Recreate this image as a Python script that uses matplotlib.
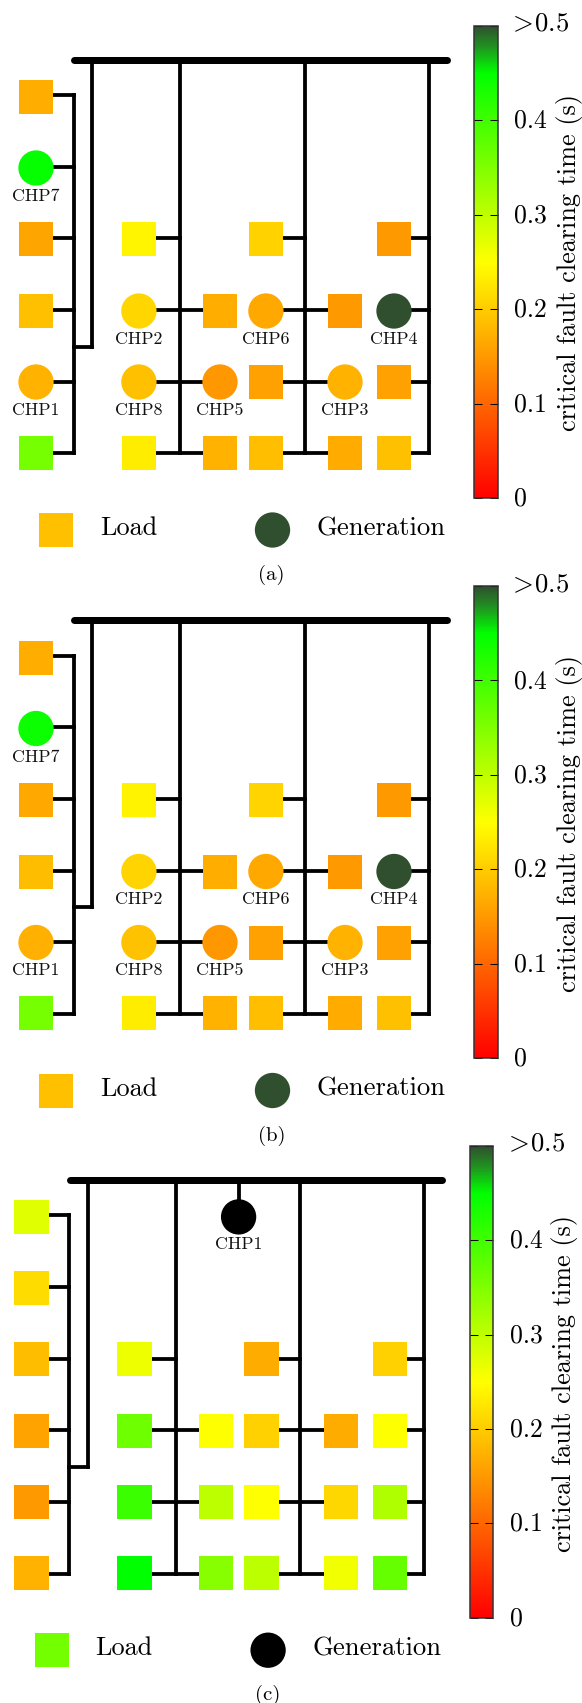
import numpy as np
import matplotlib
matplotlib.use("Agg")
import matplotlib.pyplot as plt
from matplotlib.colors import LinearSegmentedColormap, Normalize
from matplotlib.cm import ScalarMappable
from matplotlib.patches import Rectangle, Ellipse
from matplotlib.transforms import ScaledTranslation

plt.rcParams['font.family'] = ['cmr10', 'DejaVu Serif']
plt.rcParams['mathtext.fontset'] = 'cm'
plt.rcParams['axes.formatter.use_mathtext'] = True

W, H, DPI = 582, 1703, 100
N = np.nan

# critical fault clearing time (s), rows top to bottom, columns left to right
VALUES_A = [
    [.170, N, N, N, N, N],
    [.445, N, N, N, N, N],
    [.162, .240, N, .206, N, .150],
    [.188, .209, .170, .165, .150, .500],
    [.175, .188, .149, .158, .175, .158],
    [.358, .232, .175, .186, .167, .188],
]
VALUES_B = [
    [.170, N, N, N, N, N],
    [.440, N, N, N, N, N],
    [.165, .238, N, .208, N, .150],
    [.185, .208, .170, .165, .150, .500],
    [.172, .190, .149, .158, .175, .158],
    [.358, .232, .175, .186, .167, .188],
]
VALUES_C = [
    [.274, N, N, N, N, N],
    [.215, N, N, N, N, N],
    [.185, .263, N, .168, N, .205],
    [.160, .364, .250, .205, .168, .250],
    [.150, .405, .303, .250, .210, .312],
    [.175, .450, .343, .303, .260, .370],
]
CHP_AB = {'CHP7': (1, 0), 'CHP2': (3, 1), 'CHP6': (3, 3), 'CHP4': (3, 5),
          'CHP1': (4, 0), 'CHP8': (4, 1), 'CHP5': (4, 2), 'CHP3': (4, 4)}
LEGEND_LOAD = [.188, .188, .360]
CBAR_TICKS = [0, .1, .2, .3, .4, .5]
CBAR_LABELS = ['0', '0.1', '0.2', '0.3', '0.4', r'$>\!0.5$']
CBAR_TITLE = 'critical fault clearing time (s)'

# schematic layout, in pixels
COL_X = [36, 138.9, 220, 265.9, 345, 394]
ROW_Y = [97, 168, 239, 311, 382, 453]
WIRE_Y = [95, 166.7, 238.3, 310, 381.7, 453.3]
FEEDER_X = [91.9, 180.4, 304.6, 428.7]
LEFT_BUS_X = 73.8
COL_FEEDER = [LEFT_BUS_X, 180.4, 180.4, 304.6, 304.6, 428.7]
SQ_W, SQ_H = 34.2, 34
CI_W, CI_H = 35.3, 35.3
LW_THIN = 3.8 * 72 / DPI
LW_BUS = 7 * 72 / DPI

cmap = LinearSegmentedColormap.from_list('cfct', [
    (0, '#ff0000'), (.5, '#ffff00'), (.9, '#00ff00'),
    (.96, '#228b22'), (1, '#2f4f2f')], N=512)
norm = Normalize(0, .5)

fig = plt.figure(figsize=(W / DPI, H / DPI), dpi=DPI)


def wire(ax, xs, ys, lw=LW_THIN, cap='projecting'):
    ax.plot(xs, ys, color='k', lw=lw, solid_capstyle=cap, zorder=1)


def node(ax, x, y, colour, gen):
    if gen:
        p = Ellipse((x, y), CI_W, CI_H, fc=colour, ec='none', zorder=3)
    else:
        p = Rectangle((x - SQ_W / 2, y - SQ_H / 2), SQ_W, SQ_H, fc=colour, ec='none', zorder=3)
    ax.add_patch(p)


def panel(y0, y1, dx, values, chps, caption, load, gen_colour, cbar_top, cbar_bot):
    ax = fig.add_axes([0, 1 - y1 / H, 1, (y1 - y0) / H])
    ax.set_xlim(-dx, W - dx)
    ax.set_ylim(y1 - cbar_top + 25.5, y0 - cbar_top + 25.5)
    ax.axis('off')

    wire(ax, [74, 446.5], [59.5, 59.5], LW_BUS, 'round')
    wire(ax, [FEEDER_X[0]] * 2, [59.5, 346.5])
    for x in FEEDER_X[1:]:
        wire(ax, [x, x], [59.5, WIRE_Y[5]])
    wire(ax, [LEFT_BUS_X] * 2, [WIRE_Y[0], WIRE_Y[5]])
    wire(ax, [LEFT_BUS_X, FEEDER_X[0]], [346.5, 346.5])

    for r, row in enumerate(values):
        for c, v in enumerate(row):
            if np.isnan(v):
                continue
            wire(ax, [COL_X[c], COL_FEEDER[c]], [WIRE_Y[r], WIRE_Y[r]])
            node(ax, COL_X[c], ROW_Y[r], cmap(norm(v)), (r, c) in chps.values())
    for name, (r, c) in chps.items():
        ax.text(COL_X[c], ROW_Y[r] + 33, name, fontsize=12.9, ha='center', va='baseline', color='#111111')

    if not chps:
        wire(ax, [243, 243], [59.5, 96.7])
        node(ax, 243, 96.7, 'k', True)
        ax.text(243, 129, 'CHP1', fontsize=12.9, ha='center', va='baseline', color='#111111')

    node(ax, 56, 530, cmap(norm(load)), False)
    node(ax, 272.5, 530, gen_colour, True)
    ax.text(100, 535, 'Load', fontsize=18.9, ha='left', va='baseline')
    ax.text(316.5, 535, 'Generation', fontsize=19.2, ha='left', va='baseline')
    ax.text(271.7, 580, caption, fontsize=15, ha='center', va='baseline')

    cax = fig.add_axes([(474 + dx) / W, 1 - cbar_bot / H, 23.5 / W, (cbar_bot - cbar_top) / H])
    cb = fig.colorbar(ScalarMappable(norm=norm, cmap=cmap), cax=cax, ticks=CBAR_TICKS)
    cb.outline.set_linewidth(1.1)
    cb.outline.set_edgecolor('#333333')
    cax.tick_params(axis='y', which='major', direction='in', left=True, right=True,
                    length=7.7 * 72 / DPI, width=0.75, pad=16.5 * 72 / DPI,
                    labelsize=18.5, labelright=True, labelleft=False)
    cax.minorticks_off()
    cax.set_yticklabels(CBAR_LABELS)
    labels = cax.get_yticklabels()
    shift = ScaledTranslation(0, 1.7 / DPI, fig.dpi_scale_trans)
    for t in labels[:-1]:
        t.set_transform(t.get_transform() + shift)
    top_shift = ScaledTranslation(-5.5 / DPI, 3.5 / DPI, fig.dpi_scale_trans)
    labels[-1].set_transform(labels[-1].get_transform() + top_shift)
    labels[-1].set_fontsize(19.3)
    mid = (94 + 431.7) / 2 - 25.5 + cbar_top
    fig.text((575.7 + dx) / W, 1 - mid / H, CBAR_TITLE, rotation=90, rotation_mode='anchor',
             fontsize=18.9, ha='center', va='baseline')


panel(0, 600, 0, VALUES_A, CHP_AB, '(a)', LEGEND_LOAD[0], '#2f4f2f', 25.5, 498)
panel(560, 1120, 0, VALUES_B, CHP_AB, '(b)', LEGEND_LOAD[1], '#2f4f2f', 586, 1058)
panel(1120, 1703, -4.4, VALUES_C, {}, '(c)', LEGEND_LOAD[2], 'k', 1145.7, 1617.7)

fig.savefig('out.png', dpi=DPI)
